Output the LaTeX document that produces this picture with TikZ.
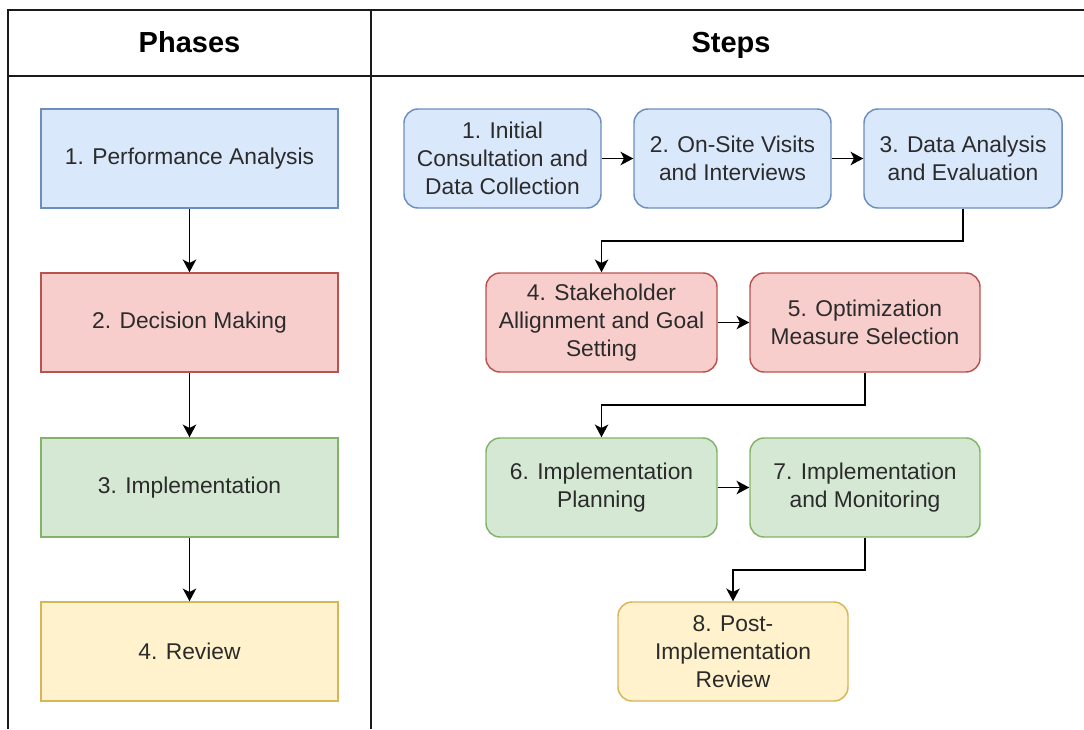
\documentclass[tikz,border=0pt]{standalone}
\usepackage{fontspec}
\setmainfont{Liberation Sans}
\usetikzlibrary{arrows.meta}

\definecolor{bluefill}{HTML}{DAE8FC}
\definecolor{bluedraw}{HTML}{6C8EBF}
\definecolor{redfill}{HTML}{F8CECC}
\definecolor{reddraw}{HTML}{B85450}
\definecolor{greenfill}{HTML}{D5E8D4}
\definecolor{greendraw}{HTML}{82B366}
\definecolor{yellowfill}{HTML}{FFF2CC}
\definecolor{yellowdraw}{HTML}{D6B656}
\definecolor{inktext}{HTML}{2B2B2B}
\definecolor{gridline}{HTML}{1A1A1A}

% one drawing unit = 0.75pt
\tikzset{
  box/.style={draw, line width=1.1pt, inner sep=0pt, align=center,
    text=inktext, font=\fontsize{17.1}{21}\selectfont},
  phasebox/.style={box, minimum width=297*0.75pt, minimum height=99*0.75pt},
  stepbox/.style={box, rounded corners=10.5pt, minimum height=99*0.75pt},
  wd/.style={minimum width=#1*0.75pt},
  blue/.style={fill=bluefill, draw=bluedraw},
  red/.style={fill=redfill, draw=reddraw},
  green/.style={fill=greenfill, draw=greendraw},
  yellow/.style={fill=yellowfill, draw=yellowdraw},
  arr/.style={draw=black, line width=1.4pt,
    -{Stealth[length=9.5pt,width=10pt,inset=2.5pt]}},
  headtext/.style={anchor=base, font=\bfseries\fontsize{21.75}{26}\selectfont, text=black},
  grid/.style={draw=gridline, line width=1.5pt}
}

\begin{document}
\begin{tikzpicture}[x=0.75pt, y=-0.75pt]
  \useasboundingbox (0,0) rectangle (1084,729);

  % table frame
  \draw[grid] (8,729) -- (8,10) -- (1084,10);
  \draw[grid] (8,76) -- (1084,76);
  \draw[grid] (371,10) -- (371,729);

  % column headers
  \node[headtext] (hphases) at (189.5,52) {Phases};
  \node[headtext] (hsteps) at (731,52) {Steps};

  % phases
  \node[phasebox, blue]   (p1) at (189.5,158.5) {1. Performance Analysis};
  \node[phasebox, red]    (p2) at (189.5,322.5) {2. Decision Making};
  \node[phasebox, green]  (p3) at (189.5,487.5) {3. Implementation};
  \node[phasebox, yellow] (p4) at (189.5,651.5) {4. Review};

  \draw[arr] (p1) -- (p2);
  \draw[arr] (p2) -- (p3);
  \draw[arr] (p3) -- (p4);

  % steps
  \node[stepbox, blue, wd=197] (s1) at (502.5,158.5)
    {1. Initial\\Consultation and\\Data Collection};
  \node[stepbox, blue, wd=197] (s2) at (732.5,158.5)
    {2. On-Site Visits\\and Interviews};
  \node[stepbox, blue, wd=198] (s3) at (963,158.5)
    {3. Data Analysis\\and Evaluation};
  \node[stepbox, red, wd=231] (s4) at (601.5,322.5)
    {4. Stakeholder\\Allignment and Goal\\Setting};
  \node[stepbox, red, wd=230] (s5) at (865,322.5)
    {5. Optimization\\Measure Selection};
  \node[stepbox, green, wd=231] (s6) at (601.5,487.5)
    {6. Implementation\\Planning};
  \node[stepbox, green, wd=230] (s7) at (865,487.5)
    {7. Implementation\\and Monitoring};
  \node[stepbox, yellow, wd=230] (s8) at (733,651.5)
    {8. Post-\\Implementation\\Review};

  \draw[arr] (s1) -- (s2);
  \draw[arr] (s2) -- (s3);
  \draw[arr] (s3.south) -- ++(0,32) -| (s4.north);
  \draw[arr] (s4) -- (s5);
  \draw[arr] (s5.south) -- ++(0,32) -| (s6.north);
  \draw[arr] (s6) -- (s7);
  \draw[arr] (s7.south) -- ++(0,32) -| (s8.north);
\end{tikzpicture}
\end{document}
